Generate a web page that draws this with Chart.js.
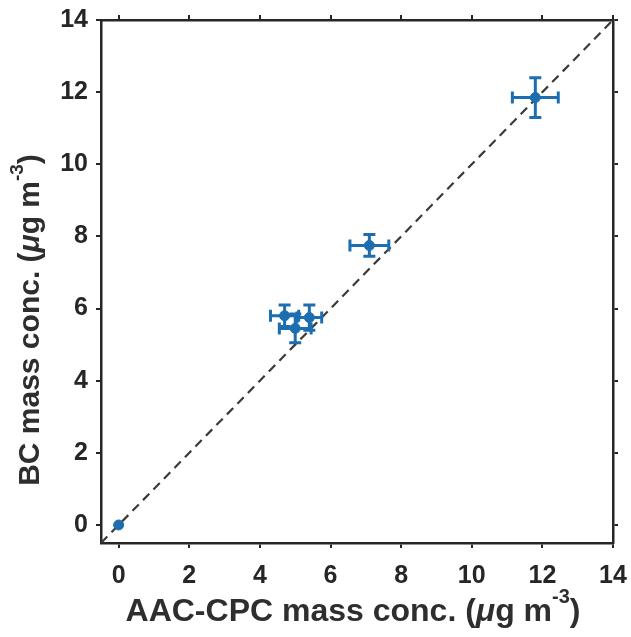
<!DOCTYPE html>
<html>
<head>
<meta charset="utf-8">
<script src="https://cdn.jsdelivr.net/npm/chart.js@4.4.1/dist/chart.umd.min.js"></script>
<style>
html,body{margin:0;padding:0;background:#fff;}
#wrap{width:631px;height:637px;}
</style>
</head>
<body>
<div id="wrap"><canvas id="c" width="631" height="637"></canvas></div>
<script>
// ---- data ----
const pointX   = [0, 4.7, 5.4, 5.0, 7.1, 11.8];
const pointY   = [0, 5.8, 5.75, 5.45, 7.75, 11.85];
const xError   = [0, 0.4, 0.35, 0.45, 0.55, 0.65];
const yError   = [0, 0.3, 0.35, 0.4, 0.3, 0.55];
const lineX    = [-0.5, 14];
const lineY    = [-0.5, 14];
const tickVals = [0, 2, 4, 6, 8, 10, 12, 14];
const xTitleParts = ['AAC-CPC mass conc. (', 'μ', 'g m', '-3', ')'];
const yTitleParts = ['BC mass conc. (', 'μ', 'g m', '-3', ')'];
const axisMin = -0.5, axisMax = 14;

const BLUE = '#1c6eb0';
const AXIS = '#262626';
const FONT = 'Arial, "Liberation Sans", sans-serif';

const errorBars = {
  id: 'errorBars',
  afterDatasetsDraw(chart) {
    const {ctx, scales:{x, y}} = chart;
    ctx.save();
    ctx.strokeStyle = BLUE;
    ctx.lineWidth = 3;
    const cap = 6;
    for (let i = 0; i < pointX.length; i++) {
      if (!xError[i] && !yError[i]) continue;
      const px = x.getPixelForValue(pointX[i]);
      const py = y.getPixelForValue(pointY[i]);
      const x0 = x.getPixelForValue(pointX[i] - xError[i]);
      const x1 = x.getPixelForValue(pointX[i] + xError[i]);
      const y0 = y.getPixelForValue(pointY[i] - yError[i]);
      const y1 = y.getPixelForValue(pointY[i] + yError[i]);
      ctx.beginPath();
      ctx.moveTo(x0, py); ctx.lineTo(x1, py);
      ctx.moveTo(x0, py - cap); ctx.lineTo(x0, py + cap);
      ctx.moveTo(x1, py - cap); ctx.lineTo(x1, py + cap);
      ctx.moveTo(px, y0); ctx.lineTo(px, y1);
      ctx.moveTo(px - cap, y0); ctx.lineTo(px + cap, y0);
      ctx.moveTo(px - cap, y1); ctx.lineTo(px + cap, y1);
      ctx.stroke();
    }
    ctx.restore();
  }
};

function drawRichTitle(ctx, parts, size) {
  const fN = `bold ${size}px ${FONT}`;
  const fI = `italic bold ${size}px ${FONT}`;
  const fS = `bold ${Math.round(size*0.62)}px ${FONT}`;
  const fonts = [fN, fI, fN, fS, fN];
  const offs = [0, 0, 0, -size*0.45, 0];
  let widths = parts.map((p, i) => { ctx.font = fonts[i]; return ctx.measureText(p).width; });
  const total = widths.reduce((a, b) => a + b, 0);
  let cx = -total / 2;
  parts.forEach((p, i) => {
    ctx.font = fonts[i];
    ctx.fillText(p, cx, offs[i]);
    cx += widths[i];
  });
}

const axisTitles = {
  id: 'axisTitles',
  afterDraw(chart) {
    const {ctx} = chart;
    ctx.save();
    ctx.fillStyle = '#2e2e2e';
    ctx.textBaseline = 'middle';
    ctx.textAlign = 'left';
    ctx.save();
    ctx.translate(353, 612);
    drawRichTitle(ctx, xTitleParts, 32);
    ctx.restore();
    ctx.save();
    ctx.translate(31, 320);
    ctx.rotate(-Math.PI / 2);
    drawRichTitle(ctx, yTitleParts, 30);
    ctx.restore();
    ctx.restore();
  }
};

function setTicks(scale) { scale.ticks = tickVals.map(v => ({value: v})); }
function noPad(s) { s.paddingLeft = 0; s.paddingRight = 0; s.paddingTop = 0; s.paddingBottom = 0; }

const tickFont = {family: FONT, size: 25, weight: 'bold'};
const gridCfg = {display: true, drawOnChartArea: false, drawTicks: true, tickLength: 5, color: AXIS, lineWidth: 2};
const borderCfg = {display: true, color: AXIS, width: 2.5};

new Chart(document.getElementById('c'), {
  type: 'scatter',
  data: {
    datasets: [
      {
        type: 'line',
        data: lineX.map((v, i) => ({x: v, y: lineY[i]})),
        borderColor: '#3a3a3a',
        borderWidth: 2.2,
        borderDash: [9, 6],
        pointRadius: 0,
        fill: false,
        order: 2
      },
      {
        data: pointX.map((v, i) => ({x: v, y: pointY[i]})),
        backgroundColor: BLUE,
        borderColor: BLUE,
        pointRadius: 5,
        pointHoverRadius: 5,
        order: 1
      }
    ]
  },
  options: {
    responsive: false,
    animation: false,
    devicePixelRatio: 1,
    layout: {padding: 0},
    plugins: {legend: {display: false}, tooltip: {enabled: false}},
    scales: {
      x: {
        type: 'linear', position: 'bottom', min: axisMin, max: axisMax,
        afterBuildTicks: setTicks,
        afterFit: s => { s.height = 94; noPad(s); },
        ticks: {color: AXIS, font: tickFont, padding: 13, maxRotation: 0},
        grid: gridCfg, border: borderCfg
      },
      x2: {
        type: 'linear', position: 'top', min: axisMin, max: axisMax,
        afterBuildTicks: setTicks,
        afterFit: s => { s.height = 20; noPad(s); },
        ticks: {display: true, callback: () => ''},
        grid: gridCfg, border: borderCfg
      },
      y: {
        type: 'linear', position: 'left', min: axisMin, max: axisMax,
        afterBuildTicks: setTicks,
        afterFit: s => { s.width = 101; noPad(s); },
        ticks: {color: AXIS, font: tickFont, padding: 8},
        grid: gridCfg, border: borderCfg
      },
      y2: {
        type: 'linear', position: 'right', min: axisMin, max: axisMax,
        afterBuildTicks: setTicks,
        afterFit: s => { s.width = 18; noPad(s); },
        ticks: {display: true, callback: () => ''},
        grid: gridCfg, border: borderCfg
      }
    }
  },
  plugins: [errorBars, axisTitles]
});
</script>
</body>
</html>
